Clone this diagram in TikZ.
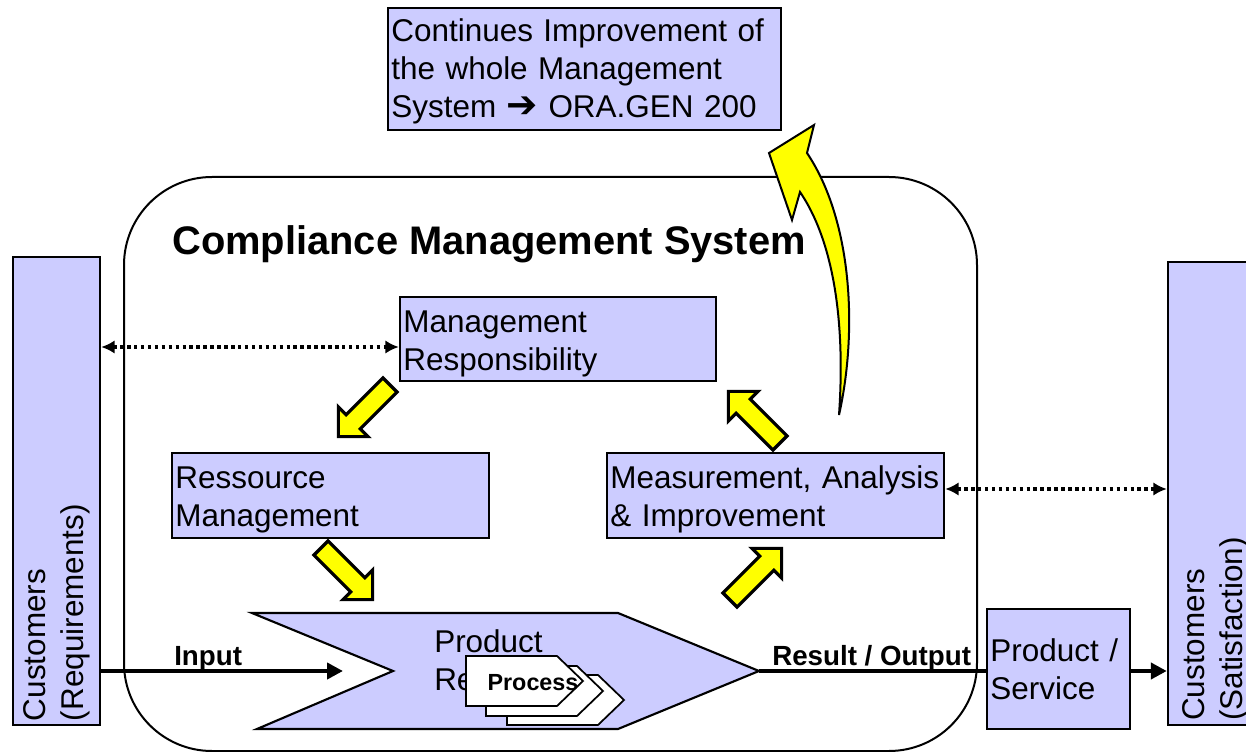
\documentclass[tikz,border=0pt]{standalone}
\usepackage{fontspec}
\setmainfont{Liberation Sans}
\newfontfamily\symf{DejaVu Sans}
\usetikzlibrary{arrows.meta}
\definecolor{lav}{RGB}{204,204,255}
\definecolor{yel}{RGB}{255,255,0}
\newcommand\mainsz{\fontsize{23.6}{28.5}\selectfont}
\newcommand\titlesz{\fontsize{29.9}{35}\selectfont}
\newcommand\lblsz{\fontsize{20.8}{25}\selectfont}
\newcommand\procsz{\fontsize{17.5}{21}\selectfont}
\newcommand\tstrut{\rule{0pt}{23pt}}
\begin{document}
\begin{tikzpicture}[x=0.75pt,y=-0.75pt,
  box/.style={draw=black,fill=lav,line width=1.8pt,inner xsep=2.5pt,inner ysep=0pt,align=left,font=\mainsz},
  custbox/.style={draw=black,fill=lav,line width=1.8pt,inner sep=0pt,font=\mainsz},
  yarrowstyle/.style={draw=black,fill=yel,line width=2.4pt,line join=miter},
  proc/.style={draw=black,fill=white,line width=1.3pt},
  thickline/.style={line width=3pt},
  tipA/.style={-{Triangle[length=12pt,width=12pt]}},
  dots/.style={line width=2.6pt,dash pattern=on 2.6pt off 2.6pt,{Latex[length=10pt,width=10pt]}-{Latex[length=10pt,width=10pt]}},
  yarr/.pic={\draw[yarrowstyle] (0,-10) -- (52,-10) -- (52,-21) -- (73,0) -- (52,21) -- (52,10) -- (0,10) -- cycle;}
]
\clip (0,0) rectangle (1246,752);
\fill[white] (0,0) rectangle (1246,752);

% system frame
\draw[line width=1.5pt, rounded corners=66pt] (124,177) rectangle (977,751);
\node[font=\titlesz\bfseries, anchor=base west, inner sep=0pt] (title) at (172,255) {Compliance Management System};

% boxes
\node[box, minimum width=294.75pt, minimum height=91.5pt, text width=289.75pt] (cip) at (584.5,69)
  {\rule{0pt}{20pt}Continues Improvement of\\the whole Management\\System {\symf\fontsize{28}{28}\selectfont ➔} ORA.GEN 200};
\node[box, minimum width=237pt, minimum height=63pt, text width=232pt] (mr) at (558,339)
  {\tstrut Management\\Responsibility};
\node[box, minimum width=237.75pt, minimum height=63.75pt, text width=232.75pt] (rm) at (330.5,495.5)
  {\tstrut Ressource\\Management};
\node[box, minimum width=252.75pt, minimum height=63.75pt, text width=247.75pt] (meas) at (775.5,495.5)
  {\tstrut\mbox{Measurement, Analysis}\\\& Improvement};
\node[box, minimum width=107.25pt, minimum height=90pt, text width=102.25pt] (ps) at (1058.5,669)
  {Product /\\Service};
\node[custbox, minimum width=65.25pt, minimum height=351pt] (lcust) at (56.5,491)
  {\rotatebox{90}{\parbox{345pt}{\raggedright Customers\\(Requirements)}}};
\node[custbox, minimum width=72pt, minimum height=347.25pt] (rcust) at (1216,493.5)
  {\rotatebox{90}{\parbox{341pt}{\raggedright Customers\\(Satisfaction)}}};

% product realization chevron
\coordinate (chtip) at (759,671);
\coordinate (intip) at (343,671);
\draw[line width=1.6pt, fill=lav] (252,613) -- (618,613) -- (chtip) -- (618,729) -- (257,729) -- (393,671) -- cycle;
\node[font=\mainsz, align=left, anchor=north west, inner sep=0pt] (prtext) at (434,629) {Product\\Realization};
\draw[proc] (507,675) -- (598,675) -- (624,700) -- (598,725) -- (507,725) -- cycle;
\draw[proc] (486,666) -- (577,666) -- (603,691) -- (577,716) -- (486,716) -- cycle;
\draw[proc] (466,656) -- (557,656) -- (583,681) -- (557,706) -- (466,706) -- cycle;
\node[font=\procsz\bfseries, inner sep=0pt] (proc) at (533,683) {Process};

% flow lines
\draw[thickline, tipA] (lcust.east |- intip) -- (intip);
\node[font=\lblsz\bfseries, anchor=base west, inner sep=0pt] (inlbl) at (174,665) {Input};
\draw[thickline] (chtip) -- (ps.west |- chtip);
\node[font=\lblsz\bfseries, anchor=base west, inner sep=0pt] (outlbl) at (772,665) {Result / Output};
\draw[thickline, tipA] (ps.east |- chtip) -- (rcust.west |- chtip);

% dotted links
\coordinate (d1) at (0,347);
\coordinate (d2) at (0,489);
\draw[dots] (lcust.east |- d1) -- (mr.west |- d1);
\draw[dots] (meas.east |- d2) -- (rcust.west |- d2);

% yellow cycle arrows
\pic[rotate=225] (a1) at (390,385) {yarr};
\pic[rotate=-45] (a2) at (321,548) {yarr};
\pic[rotate=45] (a3) at (730,600) {yarr};
\pic[rotate=135] (a4) at (780,443) {yarr};

% big curved arrow
\draw[draw=black, fill=yel, line width=1.5pt, line join=miter]
  (839,415) .. controls (858,330) and (852,220) .. (807,153)
  -- (814,125) -- (769,153) -- (792,220) -- (800,192)
  .. controls (836,245) and (845,330) .. (839,415) -- cycle;
\end{tikzpicture}
\end{document}
